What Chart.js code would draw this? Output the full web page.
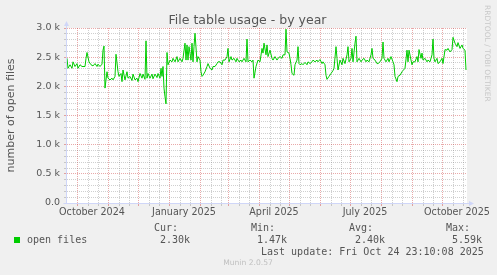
<!DOCTYPE html>
<html lang="en">
<head>
<meta charset="UTF-8" />
<title>File table usage - by year</title>
<script src="https://cdn.jsdelivr.net/npm/chart.js"></script>
<style>
    body { margin: 0; background: #f0f0f0; }
    #wrap {
        position: relative;
        width: 497px;
        height: 275px;
        overflow: hidden;
        font-family: "DejaVu Sans", sans-serif;
        color: #555;
    }
    #wrap canvas { position: absolute; left: 0; top: 0; }
    .t { position: absolute; white-space: nowrap; }
    .mono { font-family: "DejaVu Sans Mono", monospace; font-size: 10px; line-height: 12px; }
    #title { left: 0; width: 495px; top: 12px; text-align: center; font-size: 12.5px; line-height: 15px; }
    #rrd { left: 483px; top: 5px; writing-mode: vertical-rl; font-size: 7.5px; line-height: 9px; color: #c8c8c8; }
    #munin { left: 0; width: 496px; text-align: center; top: 258px; font-size: 7.6px; line-height: 10px; color: #c0c0c0; }
    #swatch { left: 14px; top: 237px; width: 6px; height: 6px; background: #00cc00; }
</style>
</head>
<body>
<div id="wrap">
    <canvas id="chart" width="497" height="275"></canvas>
    <div class="t" id="title">File table usage - by year</div>
    <div class="t" id="rrd">RRDTOOL / TOBI OETIKER</div>
    <div class="t" id="swatch"></div>
    <div class="t mono" style="left:27px; top:234px">open files</div>
    <div id="stats"></div>
    <div class="t mono" style="left:261px; top:246px">Last update: Fri Oct 24 23:10:08 2025</div>
    <div class="t" id="munin">Munin 2.0.57</div>
</div>

<script>
// days since 21 Sep 2024 (left edge of the plot), values = open files
const days = [
    0, 1, 3, 5, 6, 8, 10, 11, 13, 15, 16, 18, 19, 20, 22, 24, 26, 28, 30, 31,
    33, 35, 36, 37, 38, 40, 41, 43, 45, 46, 48, 49, 51, 52, 54, 55, 56, 58, 60, 61,
    63, 65, 66, 68, 70, 71, 73, 75, 76, 78, 79, 80, 81, 83, 85, 86, 88, 90, 91, 93,
    94, 95, 96, 97, 98, 99, 100, 101, 103, 105, 106, 108, 110, 111, 113, 115, 116, 118, 119, 120,
    121, 122, 124, 125, 126, 127, 128, 130, 131, 133, 134, 135, 136, 138, 140, 141, 143, 145, 146, 148,
    150, 151, 153, 155, 156, 158, 160, 161, 162, 164, 165, 167, 169, 170, 172, 174, 175, 177, 179, 180,
    181, 183, 185, 186, 187, 189, 191, 193, 195, 196, 197, 199, 200, 201, 203, 205, 206, 208, 210, 211,
    213, 215, 216, 218, 219, 220, 222, 223, 224, 225, 227, 228, 230, 231, 232, 233, 235, 236, 238, 240,
    241, 243, 245, 246, 248, 250, 251, 253, 255, 256, 258, 259, 260, 262, 264, 266, 267, 269, 270, 271,
    273, 275, 276, 278, 280, 281, 282, 284, 285, 286, 288, 289, 290, 292, 294, 295, 297, 299, 300, 302,
    304, 305, 306, 308, 310, 311, 313, 315, 316, 317, 319, 321, 322, 324, 326, 327, 328, 330, 331, 333,
    335, 336, 338, 340, 341, 342, 344, 345, 346, 348, 350, 351, 352, 354, 355, 356, 358, 360, 361, 363,
    365, 366, 367, 368, 370, 371, 373, 375, 376, 378, 380, 381, 383, 385, 386, 388, 390, 391, 393, 395,
    396, 398, 399
];
const openFiles = [
    2480, 2310, 2370, 2310, 2420, 2340, 2390, 2310, 2370, 2340, 2340, 2340, 2480, 2580, 2420, 2370, 2350, 2390, 2340, 2380,
    2340, 2380, 2620, 2690, 1970, 2250, 2140, 2110, 2140, 2110, 2170, 2550, 2250, 2170, 2220, 2080, 2280, 2110, 2250, 2140,
    2170, 2100, 2210, 2110, 2140, 2080, 2220, 2140, 2210, 2120, 2780, 2140, 2220, 2140, 2210, 2130, 2210, 2150, 2220, 2140,
    2310, 2170, 2340, 1970, 1820, 1700, 2580, 2370, 2450, 2420, 2480, 2420, 2510, 2420, 2480, 2420, 2480, 2740, 2450, 2710,
    2450, 2680, 2450, 2740, 2420, 2680, 2910, 2420, 2510, 2450, 2250, 2170, 2190, 2250, 2340, 2390, 2310, 2280, 2340, 2340,
    2390, 2420, 2420, 2370, 2450, 2450, 2510, 2650, 2420, 2510, 2450, 2480, 2420, 2480, 2420, 2450, 2420, 2480, 2420, 2810,
    2420, 2450, 2420, 2450, 2140, 2340, 2450, 2420, 2650, 2570, 2740, 2540, 2710, 2510, 2620, 2480, 2450, 2510, 2450, 2480,
    2510, 2480, 2540, 2540, 2980, 2590, 2570, 2480, 2370, 2220, 2190, 2370, 2450, 2680, 2390, 2370, 2390, 2370, 2410, 2370,
    2420, 2390, 2420, 2450, 2420, 2450, 2420, 2460, 2390, 2420, 2370, 2190, 2120, 2170, 2220, 2270, 2310, 2680, 2480, 2280,
    2450, 2370, 2480, 2390, 2540, 2680, 2420, 2480, 2650, 2420, 2740, 2860, 2420, 2480, 2420, 2450, 2480, 2420, 2450, 2420,
    2540, 2650, 2480, 2450, 2390, 2390, 2420, 2480, 2760, 2480, 2420, 2480, 2420, 2510, 2420, 2370, 2170, 2080, 2170, 2190,
    2250, 2270, 2310, 2620, 2420, 2620, 2450, 2370, 2420, 2420, 2510, 2420, 2630, 2480, 2570, 2450, 2480, 2420, 2450, 2420,
    2540, 2810, 2480, 2420, 2480, 2390, 2420, 2480, 2390, 2630, 2620, 2650, 2590, 2630, 2840, 2740, 2680, 2750, 2650, 2710,
    2650, 2620, 2280
];

// x axis: month starts (major grid), label positions (mid month)
const monthStarts = [10, 41, 71, 102, 133, 161, 192, 222, 253, 283, 314, 345, 375];
const labelDays = [25, 117, 207, 298, 390];
const labelNames = ["October 2024", "January 2025", "April 2025", "July 2025", "October 2025"];

// y axis
const yStep = 100;
const yMajorStep = 500;
const yMax = 3000;

// legend numbers
const statNames = ["Cur:", "Min:", "Avg:", "Max:"];
const statValues = ["2.30k", "1.47k", "2.40k", "5.59k"];
const statLeft = [154, 251, 349, 446];

const statsBox = document.getElementById("stats");
statNames.forEach((name, i) => {
    statsBox.innerHTML +=
        `<div class="t mono" style="left:${statLeft[i]}px; top:222px">${name}</div>` +
        `<div class="t mono" style="left:${statLeft[i] + 6}px; top:234px">${statValues[i]}</div>`;
});

let xTicks = [];
monthStarts.forEach((m) => {
    xTicks.push(m);
    [11, 21].forEach((off) => {
        if (m + off < 400) xTicks.push(m + off);
    });
});
xTicks = xTicks.concat(labelDays).sort((a, b) => a - b);

let yTicks = [];
for (let v = 0; v <= yMax; v += yStep) yTicks.push(v);

const GRAY = "rgba(130,130,130,0.38)";
const RED = "rgba(200,40,40,0.4)";
const AXIS = "#cfd6f8";

function xGridColor(c) {
    const v = c.tick ? c.tick.value : null;
    if (labelDays.includes(v)) return "rgba(0,0,0,0)";
    return monthStarts.includes(v) ? RED : GRAY;
}
function yGridColor(c) {
    const v = c.tick ? c.tick.value : 0;
    return v % yMajorStep === 0 ? RED : GRAY;
}

const backdrop = {
    id: "backdrop",
    beforeDraw(chart) {
        const { ctx, chartArea: a } = chart;
        ctx.save();
        ctx.fillStyle = "#f0f0f0";
        ctx.fillRect(0, 0, chart.width, chart.height);
        ctx.fillStyle = "#ffffff";
        ctx.fillRect(a.left, a.top, a.right - a.left, a.bottom - a.top);
        ctx.restore();
    },
    beforeDatasetsDraw(chart) {
        const { ctx, chartArea: a } = chart;
        const x0 = a.left - 0.5;
        const y0 = a.bottom + 0.5;
        ctx.save();
        ctx.strokeStyle = AXIS;
        ctx.fillStyle = AXIS;
        ctx.lineWidth = 1;
        ctx.beginPath();
        ctx.moveTo(x0, y0);
        ctx.lineTo(x0, a.top - 3);
        ctx.moveTo(x0 - 3, y0);
        ctx.lineTo(a.right + 3, y0);
        ctx.stroke();
        ctx.beginPath();
        ctx.moveTo(x0 - 2.5, a.top - 2);
        ctx.lineTo(x0 + 2.5, a.top - 2);
        ctx.lineTo(x0, a.top - 7);
        ctx.closePath();
        ctx.fill();
        ctx.beginPath();
        ctx.moveTo(a.right + 2, y0 - 2.5);
        ctx.lineTo(a.right + 2, y0 + 2.5);
        ctx.lineTo(a.right + 7, y0);
        ctx.closePath();
        ctx.fill();
        ctx.restore();
    },
};

const tickFont = { family: "DejaVu Sans", size: 9.6 };

new Chart(document.getElementById("chart"), {
    type: "line",
    data: {
        datasets: [
            {
                label: "open files",
                data: days.map((d, i) => ({ x: d, y: openFiles[i] })),
                borderColor: "#00cc00",
                borderWidth: 1,
                pointRadius: 0,
                tension: 0,
                fill: false,
            },
        ],
    },
    options: {
        responsive: false,
        animation: false,
        layout: { padding: { top: 28, right: 30, left: 0, bottom: 0 } },
        plugins: { legend: { display: false }, tooltip: { enabled: false } },
        scales: {
            x: {
                type: "linear",
                min: 0,
                max: 400,
                afterFit: (s) => { s.height = 72; },
                afterBuildTicks: (s) => { s.ticks = xTicks.map((v) => ({ value: v })); },
                grid: { color: xGridColor, tickColor: xGridColor, tickLength: 3, lineWidth: 1 },
                border: { display: false, dash: [1, 1] },
                ticks: {
                    autoSkip: false,
                    maxRotation: 0,
                    padding: 1,
                    color: "#555",
                    font: tickFont,
                    callback: (v) => {
                        const i = labelDays.indexOf(v);
                        return i >= 0 ? labelNames[i] : "";
                    },
                },
            },
            y: {
                min: 0,
                max: yMax,
                afterFit: (s) => { s.width = 67; },
                afterBuildTicks: (s) => { s.ticks = yTicks.map((v) => ({ value: v })); },
                grid: { color: yGridColor, tickColor: yGridColor, tickLength: 3, lineWidth: 1 },
                border: { display: false, dash: [1, 1] },
                ticks: {
                    autoSkip: false,
                    padding: 4,
                    color: "#555",
                    font: { family: "DejaVu Sans", size: 9.5 },
                    callback: (v) => {
                        if (v % yMajorStep !== 0) return "";
                        return v === 0 ? "0.0" : (v / 1000).toFixed(1) + " k";
                    },
                },
                title: {
                    display: true,
                    text: "number of open files",
                    color: "#555",
                    font: { family: "DejaVu Sans", size: 11 },
                    padding: { top: 5, bottom: 0 },
                },
            },
        },
    },
    plugins: [backdrop],
});
</script>
</body>
</html>
